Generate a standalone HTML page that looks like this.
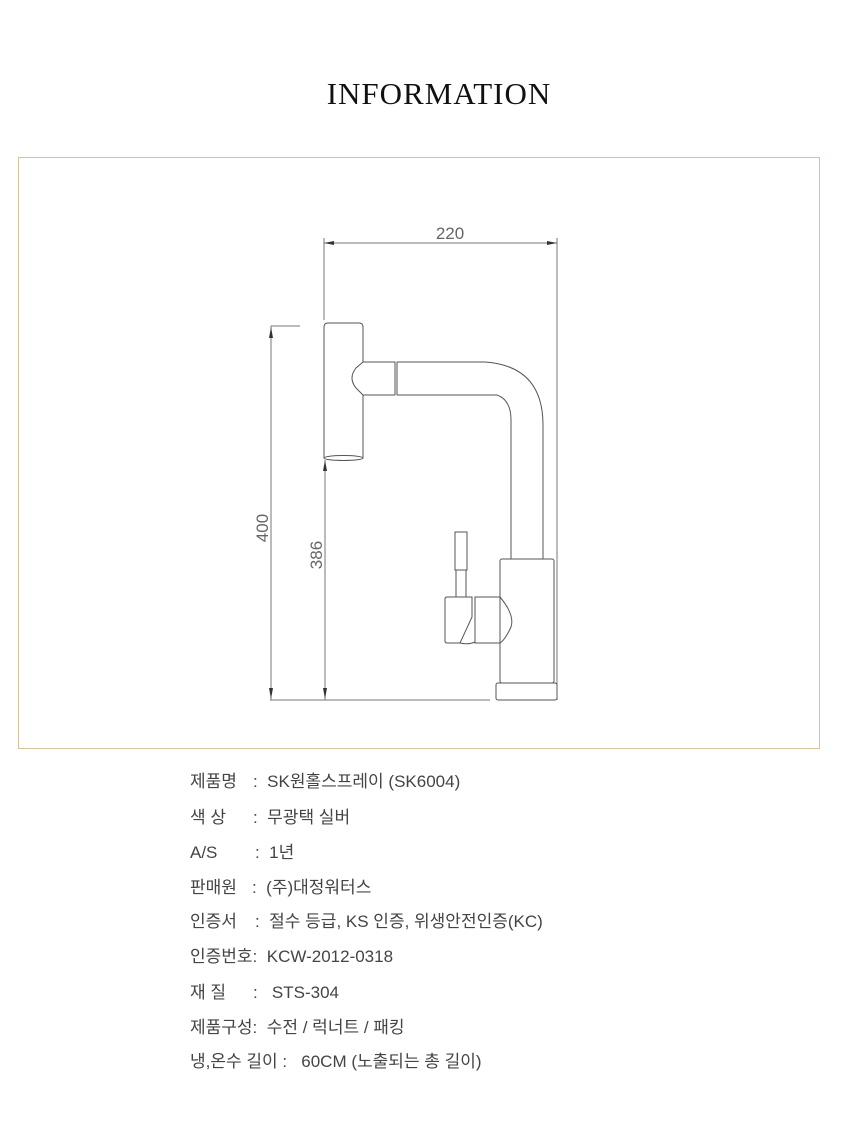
<!DOCTYPE html>
<html><head><meta charset="utf-8"><style>
body{margin:0;background:#fff;width:860px;height:1145px;position:relative;overflow:hidden}
.t{position:absolute;font-family:"Liberation Sans","Noto Sans CJK KR",sans-serif;font-size:17px;color:#444;white-space:pre;line-height:20px}
h1{position:absolute;left:0;width:878px;top:76px;margin:0;text-align:center;font-family:"Liberation Serif",serif;font-weight:normal;font-size:31px;color:#111;letter-spacing:1px}
.box{position:absolute;left:18px;top:157px;width:800px;height:590px;border:1px solid #d6c39a}
</style></head><body>
<h1>INFORMATION</h1>
<div class="box"></div>
<svg width="860" height="1145" style="position:absolute;left:0;top:0" fill="none" stroke="#555" stroke-width="1">
<g stroke="#777">
<line x1="324" y1="238" x2="324" y2="320"/>
<line x1="557" y1="238" x2="557" y2="700"/>
<line x1="324" y1="243" x2="557" y2="243"/>
<line x1="271" y1="326" x2="271" y2="700"/>
<line x1="271" y1="326" x2="300" y2="326"/>
<line x1="325" y1="460" x2="325" y2="700"/>
<line x1="270" y1="700" x2="490" y2="700"/>
</g>
<g fill="#333" stroke="none">
<polygon points="324,243 334,241 334,245"/>
<polygon points="557,243 547,241 547,245"/>
<polygon points="271,327 269,338 273,338"/>
<polygon points="271,699 269,688 273,688"/>
<polygon points="325,460 323,471 327,471"/>
<polygon points="325,699 323,688 327,688"/>
</g>
<text x="450" y="239" fill="#666" stroke="none" font-family="Liberation Sans,sans-serif" font-size="17" text-anchor="middle">220</text>
<text transform="translate(268,528) rotate(-90)" fill="#666" stroke="none" font-family="Liberation Sans,sans-serif" font-size="17" text-anchor="middle">400</text>
<text transform="translate(322,555) rotate(-90)" fill="#666" stroke="none" font-family="Liberation Sans,sans-serif" font-size="17" text-anchor="middle">386</text>
<path d="M324,458 V327 Q324,323 328,323 H359 Q363,323 363,327 V362"/>
<path d="M363,395 V458"/>
<ellipse cx="343.5" cy="458" rx="19.5" ry="2.5"/>
<path d="M363,362 L356,368 Q348,378 356,388 L363,395 H395 V362 Z"/>
<line x1="397" y1="362" x2="397" y2="395"/>
<path d="M397,362 H485 Q543,366 543,425 V559"/>
<path d="M397,395 H497 Q511,400 511,420 V559"/>
<rect x="500" y="559" width="54" height="124" rx="2"/>
<rect x="496" y="683" width="61" height="17" rx="2"/>
<rect x="455" y="532" width="12" height="38"/>
<line x1="456" y1="570" x2="456" y2="597"/><line x1="466" y1="570" x2="466" y2="597"/>
<path d="M447,597 H472 V617 L460,643 H447 Q445,643 445,641 V599 Q445,597 447,597"/>
<path d="M460,643 Q468,645 475,642"/>
<path d="M475,597 H500 Q515,615 511,627 Q505,640 500,643 H475 Z"/>
</svg>
<div class="t" style="left:190px;top:772px">제품명</div><div class="t" style="left:253px;top:772px">:  SK원홀스프레이 (SK6004)</div>
<div class="t" style="left:190px;top:808px">색 상</div><div class="t" style="left:253px;top:808px">:  무광택 실버</div>
<div class="t" style="left:190px;top:843px">A/S</div><div class="t" style="left:255px;top:843px">:  1년</div>
<div class="t" style="left:190px;top:878px">판매원</div><div class="t" style="left:252px;top:878px">:  (주)대정워터스</div>
<div class="t" style="left:190px;top:912px">인증서</div><div class="t" style="left:255px;top:912px">:  절수 등급, KS 인증, 위생안전인증(KC)</div>
<div class="t" style="left:190px;top:947px">인증번호:  KCW-2012-0318</div>
<div class="t" style="left:190px;top:983px">재 질</div><div class="t" style="left:253px;top:983px">:   STS-304</div>
<div class="t" style="left:190px;top:1018px">제품구성:  수전 / 럭너트 / 패킹</div>
<div class="t" style="left:190px;top:1052px">냉,온수 길이 :   60CM (노출되는 총 길이)</div>
</body></html>
